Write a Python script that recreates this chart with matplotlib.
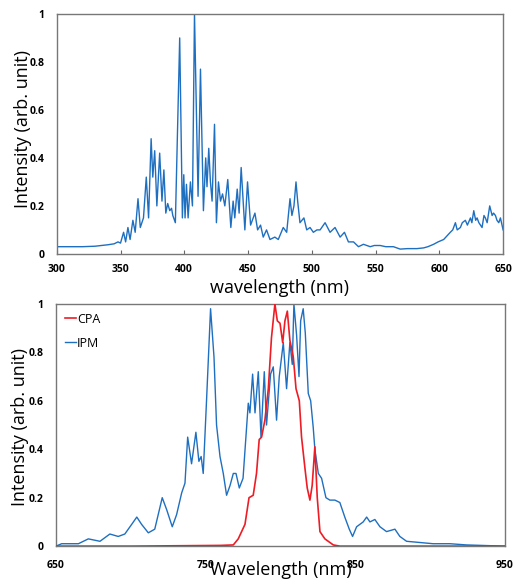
"""
Emission spectrum (top) and CPA / IPM spectra (bottom)
"""

import matplotlib.pyplot as plt
from matplotlib.ticker import FuncFormatter

# top panel: wavelength (nm) and intensity
top_wl = [300, 310, 320, 330, 340, 345, 348, 350, 352.4, 354, 355.8, 357.5, 359.7, 361.5,
          363.7, 365.5, 368, 370.2, 372, 374, 375.3, 376.8, 378.5, 380.7, 382.5, 384, 385.5,
          387, 388.6, 390, 391, 393, 396.4, 398.5, 399.6, 400.6, 401.7, 403, 404.8, 406.4,
          408, 409.3, 410.8, 412.7, 415, 416.8, 417.8, 419.2, 420.5, 421.8, 423.7, 425.2,
          426.8, 428.4, 430, 431.8, 434.1, 436.5, 438.3, 439.6, 441.5, 443, 444.6, 447.5,
          449.6, 452, 455.4, 457.5, 459.8, 461.9, 464.5, 467.2, 471, 473.7, 477.6, 480.3,
          482.9, 484.4, 486, 487.6, 488.9, 490.7, 493.8, 496, 498.6, 501.2, 504, 506.5,
          510.4, 514.3, 518.2, 522.2, 525.6, 528.7, 532.7, 536.6, 540.5, 545.8, 549, 553.6,
          558, 564, 569.3, 575, 582.4, 587.7, 591, 595.5, 599, 603.4, 606, 608.6, 610.5,
          612.6, 614, 616.5, 618, 620.4, 622, 624.4, 625.5, 627, 628.5, 629.6, 631, 633.5,
          635, 636.1, 637.5, 639.5, 641.4, 642.5, 644, 645.2, 646.6, 647.9, 650]
top_int = [0.03, 0.03, 0.03, 0.032, 0.038, 0.042, 0.05, 0.045, 0.09, 0.05, 0.11, 0.06, 0.14,
           0.09, 0.23, 0.11, 0.15, 0.32, 0.15, 0.48, 0.32, 0.43, 0.2, 0.42, 0.22, 0.35, 0.17,
           0.21, 0.18, 0.19, 0.16, 0.13, 0.9, 0.15, 0.33, 0.15, 0.29, 0.15, 0.3, 0.2,
           1.0, 0.65, 0.24, 0.77, 0.18, 0.4, 0.28, 0.44, 0.3, 0.22, 0.54, 0.13,
           0.3, 0.22, 0.25, 0.2, 0.31, 0.11, 0.22, 0.15, 0.27, 0.17, 0.36, 0.1,
           0.3, 0.12, 0.17, 0.1, 0.12, 0.07, 0.1, 0.06, 0.07, 0.06, 0.11, 0.09,
           0.23, 0.16, 0.2, 0.3, 0.22, 0.13, 0.15, 0.1, 0.11, 0.09, 0.1, 0.1,
           0.13, 0.09, 0.11, 0.07, 0.09, 0.05, 0.05, 0.03, 0.04, 0.03, 0.035, 0.035,
           0.03, 0.03, 0.02, 0.022, 0.022, 0.025, 0.03, 0.04, 0.05, 0.06, 0.075, 0.09, 0.1,
           0.13, 0.1, 0.11, 0.13, 0.14, 0.12, 0.15, 0.13, 0.18, 0.14, 0.15, 0.13, 0.11,
           0.16, 0.15, 0.13, 0.2, 0.16, 0.17, 0.16, 0.14, 0.13, 0.15, 0.1]

# bottom panel: IPM (blue) and CPA (red)
ipm_wl = [650, 653.8, 665, 671.6, 679.4, 686, 691.6, 696, 700.6, 704, 707.2, 711.7, 716,
          721, 724, 727.7, 730.6, 734, 736.2, 738, 740.6, 743.5, 745.5, 747, 748.4, 750.6,
          753.3, 755.6, 757.3, 759.6, 761.8, 764, 766.3, 768.5, 770.3, 772.5, 775, 778.5,
          779.6, 781.4, 783, 785.2, 787, 789.2, 790.7, 793.4, 795.2, 797.4, 799.2, 801.9,
          804.1, 806.3, 807.9, 809, 810.8, 812.4, 813.5, 815.2, 816.6, 818.6, 820.2, 821.9,
          823, 825.3, 827.5, 830.4, 833, 836.4, 839.7, 843, 846, 848.2, 850.9, 855.3,
          857.6, 859.8, 863.1, 866.5, 870.9, 876.5, 879.8, 884.3, 893.2, 902, 913.2, 924.3,
          950]
ipm_int = [0.0, 0.01, 0.01, 0.03, 0.02, 0.05, 0.04, 0.05, 0.09, 0.12, 0.09, 0.055, 0.07,
           0.2, 0.15, 0.08, 0.13, 0.22, 0.26, 0.45, 0.34, 0.47, 0.35, 0.37, 0.3, 0.6,
           0.98, 0.78, 0.5, 0.37, 0.3, 0.21, 0.25, 0.3, 0.3, 0.24, 0.28, 0.59,
           0.55, 0.71, 0.55, 0.72, 0.45, 0.72, 0.5, 0.71, 0.74, 0.52, 0.7, 0.84,
           0.65, 0.84, 0.75, 1.0, 0.87, 0.7, 0.93, 0.98, 0.88, 0.63, 0.6, 0.49,
           0.4, 0.3, 0.28, 0.2, 0.19, 0.19, 0.18, 0.12, 0.07, 0.04, 0.08, 0.1,
           0.12, 0.1, 0.11, 0.08, 0.06, 0.07, 0.04, 0.02, 0.015, 0.01, 0.01, 0.005,
           0.0]

cpa_wl = [650, 700, 760, 768.5, 771.8, 776.3, 779, 781.8, 784, 785.8, 787.4, 789.6, 791.9,
          794, 796.3, 797.9, 799.7, 801.5, 803, 804.6, 806.3, 808.6, 810.4, 812.6, 814.1,
          816.4, 817.9, 819.7, 821.2, 823, 824.6, 826.4, 829.7, 835.3, 839.7, 950]
cpa_int = [0.0, 0.0, 0.003, 0.005, 0.03, 0.09, 0.2, 0.21, 0.3, 0.44, 0.45, 0.52, 0.65,
           0.86, 1.0, 0.93, 0.92, 0.84, 0.93, 0.97, 0.85, 0.78, 0.65, 0.6, 0.45,
           0.32, 0.24, 0.19, 0.25, 0.41, 0.2, 0.06, 0.03, 0.005, 0.0, 0.0]

BLUE = '#1f6fc0'
RED = '#ee1c25'
plt.rcParams['font.family'] = ['Open Sans', 'DejaVu Sans']

fig = plt.figure(figsize=(5.16, 5.81), dpi=100)
ax1 = fig.add_axes([0.110, 0.563, 0.865, 0.413])
ax2 = fig.add_axes([0.1085, 0.060, 0.870, 0.417])

fmt = FuncFormatter(lambda v, p: f"{v:g}")

#Top panel
ax1.plot(top_wl, top_int, color=BLUE, lw=1.0)
ax1.set_xlim(300, 650)
ax1.set_ylim(0, 1)
ax1.set_xticks(range(300, 651, 50))
ax1.set_yticks([0, 0.2, 0.4, 0.6, 0.8, 1])
ax1.tick_params(axis='x', direction='in', length=3, pad=7, color='#666666')
ax1.tick_params(axis='y', length=0, pad=9)
ax1.set_xlabel("wavelength (nm)", fontsize=13)
ax1.xaxis.set_label_coords(0.5, -0.105)
ax1.set_ylabel("Intensity (arb. unit)", fontsize=13)
ax1.yaxis.set_label_coords(-0.055, 0.52)

#Bottom panel
ax2.plot(cpa_wl, cpa_int, color=RED, lw=1.2, label="CPA", zorder=3)
ax2.plot(ipm_wl, ipm_int, color=BLUE, lw=1.0, label="IPM")
ax2.set_xlim(650, 950)
ax2.set_ylim(0, 1)
ax2.set_xticks([650, 750, 850, 950])
ax2.set_yticks([0, 0.2, 0.4, 0.6, 0.8, 1])
ax2.tick_params(axis='x', length=0, pad=10)
ax2.tick_params(axis='y', length=0, pad=9)
ax2.set_xlabel("Wavelength (nm)", fontsize=13)
ax2.xaxis.set_label_coords(0.5, -0.062)
ax2.set_ylabel("Intensity (arb. unit)", fontsize=13)
ax2.yaxis.set_label_coords(-0.06, 0.49)
ax2.legend(loc='upper left', frameon=False, handlelength=0.9, handletextpad=0.1,
           labelspacing=0.9, fontsize=9, borderaxespad=0.3)

for ax in (ax1, ax2):
    ax.xaxis.set_major_formatter(fmt)
    ax.yaxis.set_major_formatter(fmt)
    for s in ax.spines.values():
        s.set_color('#777777')
        s.set_linewidth(1.0)
    for lbl in ax.get_xticklabels() + ax.get_yticklabels():
        lbl.set_fontweight('bold')
        lbl.set_fontsize(7.5)

plt.savefig("out.png", dpi=100)
